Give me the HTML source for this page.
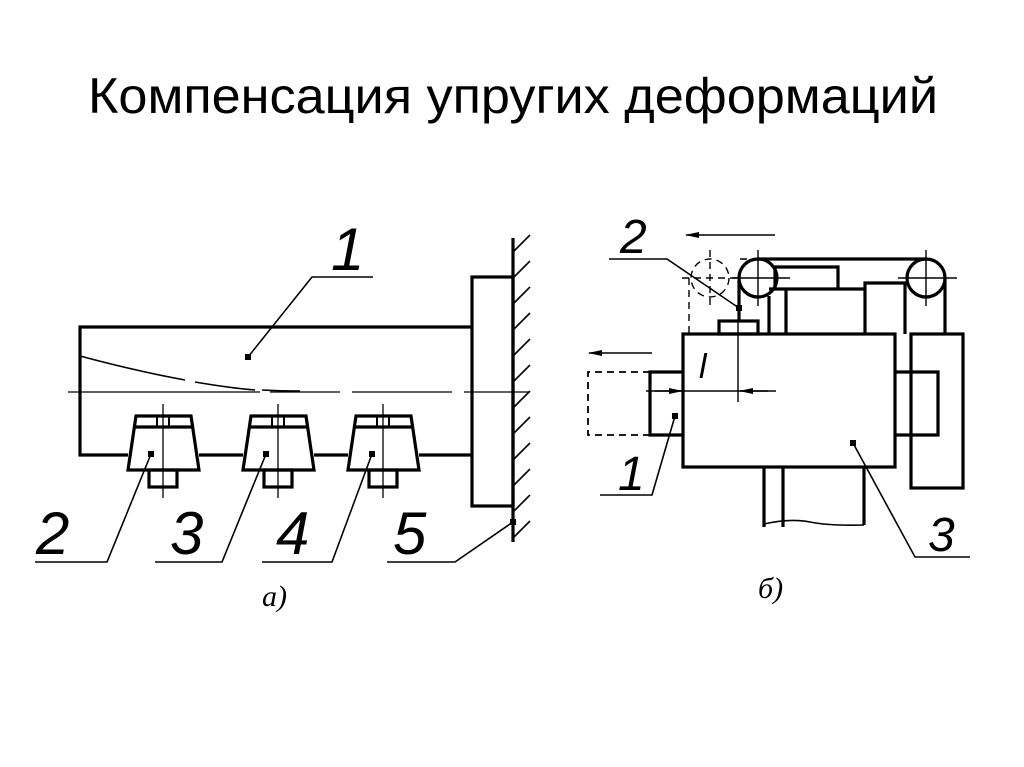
<!DOCTYPE html>
<html><head><meta charset="utf-8"><style>
html,body{margin:0;padding:0;background:#fff;}
svg{display:block}
</style></head><body>
<svg width="1024" height="767" viewBox="0 0 1024 767" xmlns="http://www.w3.org/2000/svg">
<defs>
<marker id="ar" markerWidth="14" markerHeight="6" refX="13" refY="3" orient="auto" markerUnits="userSpaceOnUse">
<path d="M0,0 L14,3 L0,6 z" fill="#000"/>
</marker>
</defs>
<text x="88" y="113" font-family="'Liberation Sans','Noto Sans CJK SC',sans-serif" font-size="50" textLength="850" lengthAdjust="spacingAndGlyphs" fill="#000">Компенсация упругих деформаций</text>

<g fill="none" stroke="#000" stroke-width="3.2">
<path d="M472,327 H80 V455 H128"/>
<path d="M199,455 H243 M314,455 H348 M419,455 H472"/>
<rect x="472" y="277" width="41" height="229"/>
<line x1="513" y1="238" x2="513" y2="542"/>
</g>
<g stroke="#000" stroke-width="1.6" fill="none">
<path d="M513,252 l17,-17 M513,278 l17,-17 M513,304 l17,-17 M513,330 l17,-17 M513,356 l17,-17 M513,382 l17,-17 M513,408 l17,-17 M513,434 l17,-17 M513,460 l17,-17 M513,486 l17,-17 M513,512 l17,-17 M513,538 l17,-17"/>
<path d="M68,392 H260 M270,392 H340 M352,392 H452 M464,392 H530" stroke-width="1.3"/>
<path d="M80,356 Q140,372 185,380 M195,382 Q230,388 255,390 M262,390 Q280,391 300,391" stroke-width="1.6"/>
</g>
<g id="cl">
<g fill="none" stroke="#000" stroke-width="3.2">
<path d="M136,416 H191 L199,470 H128 Z"/>
<line x1="133" y1="427" x2="194" y2="427"/>
<rect x="149" y="470" width="28" height="17"/>
<rect x="157" y="416" width="12" height="11" stroke-width="2"/>
</g>
<line x1="163" y1="404" x2="163" y2="498" stroke="#000" stroke-width="1.3"/>
</g>
<use href="#cl" x="115"/>
<use href="#cl" x="220"/>
<g fill="none" stroke="#000" stroke-width="1.6">
<path d="M373,277 H312 L248,357"/>
<path d="M35,562 H107 L151,454"/>
<path d="M155,562 H222 L266,454"/>
<path d="M262,562 H332 L372,454"/>
<path d="M387,562 H455 L513,522"/>
</g>
<g fill="#000">
<rect x="245" y="354" width="6" height="6"/>
<rect x="148" y="451" width="6" height="6"/>
<rect x="263" y="451" width="6" height="6"/>
<rect x="369" y="451" width="6" height="6"/>
<rect x="510" y="519" width="6" height="6"/>
</g>
<g font-family="'Liberation Sans',sans-serif" font-style="italic" font-size="60" fill="#000" lengthAdjust="spacingAndGlyphs">
<text x="331" y="270" textLength="24">1</text>
<text x="36" y="554" textLength="34">2</text>
<text x="170" y="554" textLength="32">3</text>
<text x="276" y="554" textLength="32">4</text>
<text x="393" y="554" textLength="32">5</text>
</g>
<g font-family="'Liberation Sans',sans-serif" font-style="italic" font-size="48" fill="#000" lengthAdjust="spacingAndGlyphs">
<text x="620" y="253" textLength="28">2</text>
<text x="618" y="490" textLength="22">1</text>
<text x="928" y="551" textLength="26">3</text>
</g>
<g font-family="'Liberation Serif',serif" font-style="italic" font-size="30" fill="#000">
<text x="262" y="606">а)</text>
<text x="758" y="598">б)</text>
<text x="699" y="378" font-family="'Liberation Sans',sans-serif" font-size="34">l</text>
</g>

<g fill="none" stroke="#000" stroke-width="3.2">
<rect x="683" y="334" width="212" height="133"/>
<path d="M683,372 H650 V435 H683"/>
<path d="M895,372 H938 V435 H895"/>
<rect x="911" y="334" width="52" height="154"/>
<path d="M764,467 V527 M783,467 V527 M864,467 V525"/>
<path d="M764,524 Q790,518 810,522 T864,525" stroke-width="1.6"/>
<rect x="719" y="321" width="39" height="13"/>
<circle cx="758" cy="278" r="19"/>
<circle cx="926" cy="278" r="19"/>
<path d="M758,259 H926"/>
<path d="M945,278 V334"/>
<path d="M775,289 V267 H838 V289"/>
<path d="M769,289 H865 V283 H905 V334 M786,289 V334 M865,289 V334 M769,296 V334"/>
<path d="M739,280 V321"/>
</g>
<g fill="none" stroke="#000" stroke-width="1.4">
<path d="M758,250 V306 M732,278 H790 M926,250 V306 M898,278 H957"/>
<path d="M738,321 V402"/>
<path d="M646,391 H776"/>
</g>
<g fill="none" stroke="#000" stroke-width="1.4" stroke-dasharray="7,5">
<circle cx="710" cy="278" r="19"/>
<path d="M710,250 V306 M682,278 H738 M689,278 V334 M740,259 H758"/>
<path d="M650,372 H588 V435 H650" stroke-width="1.8"/>
</g>
<g stroke="#000" stroke-width="1.6" fill="none">
<line x1="775" y1="235" x2="686" y2="235" marker-end="url(#ar)"/>
<line x1="652" y1="353" x2="589" y2="353" marker-end="url(#ar)"/>
<line x1="655" y1="391" x2="682" y2="391" marker-end="url(#ar)"/>
<line x1="768" y1="391" x2="740" y2="391" marker-end="url(#ar)"/>
<path d="M609,259 H667 L739,308"/>
<path d="M600,495 H652 L675,416"/>
<path d="M970,557 H915 L853,443"/>
</g>
<g fill="#000">
<rect x="736" y="305" width="6" height="6"/>
<rect x="672" y="413" width="6" height="6"/>
<rect x="850" y="440" width="6" height="6"/>
</g>
</svg>
</body></html>
